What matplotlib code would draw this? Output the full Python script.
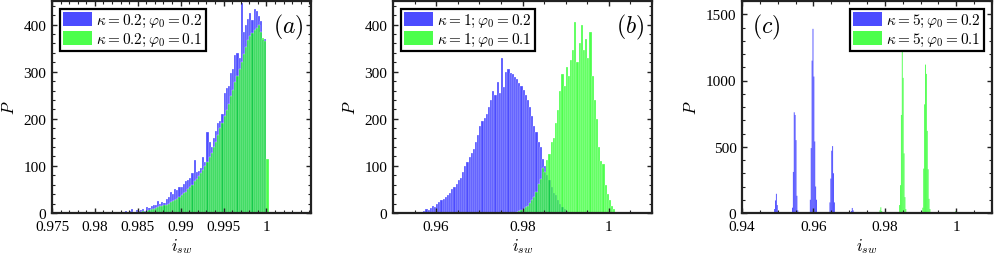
import numpy as np
import matplotlib
matplotlib.use("Agg")
import matplotlib.pyplot as plt
from matplotlib.ticker import MultipleLocator, FixedLocator
from matplotlib.patches import Patch

plt.rcParams['font.family'] = ['Liberation Serif', 'DejaVu Serif']
plt.rcParams['mathtext.fontset'] = 'cm'

BLUE = (0.0, 0.0, 1.0)
GREEN = (0.0, 1.0, 0.0)

# ---------------- Panel (a) : kappa = 0.2 ----------------
a_start = 0.9820
a_width = 0.00025
a_blue = [2, 0, 3, 1, 0, 2, 4, 3, 5, 8, 3, 6, 4, 7, 9, 5,
          12, 10, 15, 18, 16, 26, 20, 24, 22, 30, 35, 44, 40, 52, 48, 56,
          55, 62, 68, 70, 74, 85, 112, 88, 90, 96, 118, 108, 172, 150, 140, 160,
          175, 190, 195, 210, 255, 265, 270, 298, 305, 335, 340, 330,
          445, 385, 400, 412, 425, 410, 432, 428, 418, 408, 368, 370, 0, 0]
a_green = [0, 0, 0, 0, 0, 0, 1, 0, 1, 2, 1, 3, 2, 3, 4, 3,
           5, 6, 8, 9, 10, 12, 14, 15, 16, 18, 20, 24, 25, 28, 30, 33,
           38, 42, 45, 50, 55, 60, 68, 72, 78, 85, 92, 100, 108, 118, 128, 140,
           150, 165, 180, 192, 205, 218, 232, 248, 262, 278, 290, 305,
           320, 338, 352, 368, 375, 382, 388, 392, 398, 385, 372, 365, 115, 0]

# ---------------- Panel (b) : kappa = 1 ----------------
b_width = 0.0005
b_blue_start = 0.9550
b_blue = [1, 0, 2, 3, 5, 8, 7, 10, 14, 12, 20, 23, 28, 30, 35, 38, 42, 50, 55, 62,
          70, 75, 88, 100, 108, 118, 128, 135, 150, 165, 185, 195, 202, 210, 225, 240,
          258, 250, 278, 255, 330, 268, 300, 305, 298, 295, 288, 284, 275, 270,
          262, 250, 240, 225, 205, 185, 172, 150, 140, 115, 100, 80, 70, 55, 42, 38,
          28, 20, 12, 8, 4]
b_green_start = 0.9785
b_green = [2, 4, 6, 8, 12, 15, 22, 28, 35, 45, 62, 72, 95, 88, 112, 125, 150, 160,
           190, 218, 260, 295, 270, 310, 290, 325, 345, 405, 320, 360, 400, 345, 370,
           330, 385, 290, 240, 200, 140, 110, 105, 60, 40, 28, 15, 8]

# ---------------- Panel (c) : kappa = 5 ----------------
c_width = 0.00025
c_blue_x = [0.94900, 0.94925, 0.94950, 0.94975, 0.95000,
            0.95400, 0.95425, 0.95450, 0.95475, 0.95500, 0.95525, 0.95550,
            0.95900, 0.95925, 0.95950, 0.95975, 0.96000, 0.96025, 0.96050, 0.96075,
            0.96450, 0.96475, 0.96500, 0.96525, 0.96550, 0.96575,
            0.97050, 0.97075, 0.97100]
c_blue = [30, 95, 145, 60, 15,
          40, 310, 760, 740, 550, 130, 20,
          100, 490, 1150, 1390, 1030, 540, 200, 100,
          80, 260, 470, 505, 300, 80,
          15, 38, 20]
c_green_x = [0.97850, 0.97875, 0.97900,
             0.98400, 0.98425, 0.98450, 0.98475, 0.98500, 0.98525, 0.98550, 0.98575,
             0.99050, 0.99075, 0.99100, 0.99125, 0.99150, 0.99175, 0.99200, 0.99225, 0.99250,
             0.99975]
c_green = [20, 43, 15,
           60, 210, 740, 1225, 1020, 450, 120, 30,
           40, 335, 820, 1120, 1050, 620, 330, 107, 30,
           15]

W, H = 996, 255
fig = plt.figure(figsize=(W / 100, H / 100), dpi=100)

def style(ax, xlim, xmajor, xminor, ylim, ymajor, yminor):
    ax.set_xlim(*xlim)
    ax.set_ylim(*ylim)
    ax.xaxis.set_major_locator(FixedLocator(xmajor))
    ax.xaxis.set_minor_locator(MultipleLocator(xminor))
    ax.yaxis.set_major_locator(FixedLocator(ymajor))
    ax.yaxis.set_minor_locator(MultipleLocator(yminor))
    ax.set_xticklabels([('%g' % v) for v in xmajor])
    ax.set_yticklabels([('%g' % v) for v in ymajor])
    ax.tick_params(which='both', direction='in', top=True, right=True,
                   labelsize=11, color='#222222')
    ax.tick_params(axis='x', which='major', pad=5)
    ax.tick_params(axis='y', which='major', pad=4)
    ax.tick_params(which='major', length=3.5, width=1.0)
    ax.tick_params(which='minor', length=2.0, width=0.8)
    for s in ax.spines.values():
        s.set_linewidth(1.6)
        s.set_color('#222222')
    ax.set_xlabel(r'$i_{sw}$', fontsize=12, labelpad=2)
    ax.set_ylabel(r'$P$', fontsize=12, labelpad=4)

def bars(ax, starts, heights, width, color, lw=0.3, snap=None):
    ax.bar(starts, heights, width=width, align='edge', color=color, alpha=0.7,
           edgecolor=(1, 1, 1, 0.3), linewidth=lw, snap=snap)

def legend(ax, k, loc):
    handles = [Patch(facecolor=BLUE, alpha=0.7, edgecolor='none'),
               Patch(facecolor=GREEN, alpha=0.7, edgecolor='none')]
    labels = [r'$\kappa=%s;\varphi_0=0.2$' % k, r'$\kappa=%s;\varphi_0=0.1$' % k]
    lg = ax.legend(handles, labels, loc=loc, fontsize=11, frameon=True,
                   fancybox=False, handlelength=1.9, handleheight=1.1,
                   handletextpad=0.3, borderpad=0.2, labelspacing=0.1,
                   borderaxespad=0.5)
    lg.get_frame().set_edgecolor('black')
    lg.get_frame().set_linewidth(1.6)
    lg.get_frame().set_alpha(1)

bottom = 1 - 214 / H
height = (214 - 2) / H

# (a)
axa = fig.add_axes([52 / W, bottom, 259 / W, height])
a_x = a_start + a_width * np.arange(len(a_blue))
bars(axa, a_x, a_blue, a_width, BLUE)
bars(axa, a_x, a_green, a_width, GREEN)
style(axa, (0.975, 1.0052), [0.975, 0.98, 0.985, 0.99, 0.995, 1.0], 0.001,
      (0, 450), [0, 100, 200, 300, 400], 20)
legend(axa, '0.2', 'upper left')
axa.text(0.97, 0.95, r'$(a)$', transform=axa.transAxes, ha='right', va='top', fontsize=17)

# (b)
axb = fig.add_axes([393 / W, bottom, 259 / W, height])
bars(axb, b_blue_start + b_width * np.arange(len(b_blue)), b_blue, b_width, BLUE)
bars(axb, b_green_start + b_width * np.arange(len(b_green)), b_green, b_width, GREEN)
style(axb, (0.95, 1.01), [0.96, 0.98, 1.0], 0.005,
      (0, 450), [0, 100, 200, 300, 400], 20)
legend(axb, '1', 'upper left')
axb.text(0.97, 0.95, r'$(b)$', transform=axb.transAxes, ha='right', va='top', fontsize=17)

# (c)
axc = fig.add_axes([742 / W, bottom, 250 / W, height])
bars(axc, c_blue_x, c_blue, c_width, BLUE, lw=0, snap=False)
bars(axc, c_green_x, c_green, c_width, GREEN, lw=0, snap=False)
style(axc, (0.94, 1.01), [0.94, 0.96, 0.98, 1.0], 0.005,
      (0, 1600), [0, 500, 1000, 1500], 100)
legend(axc, '5', 'upper right')
axc.text(0.04, 0.95, r'$(c)$', transform=axc.transAxes, ha='left', va='top', fontsize=17)

fig.savefig('out.png', dpi=100)
